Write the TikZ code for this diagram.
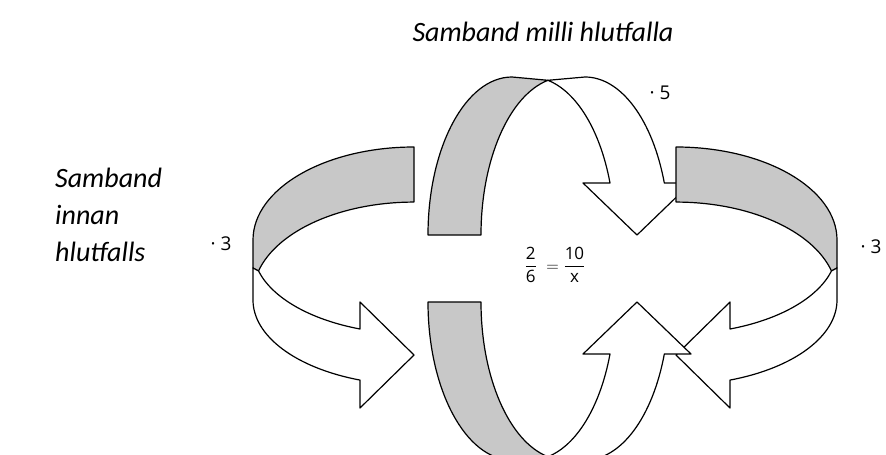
\documentclass[tikz,border=0pt]{standalone}
\usepackage{amsmath}
\usepackage{fontspec}
\setmainfont{Carlito}
\newfontfamily\numfont{Open Sans}
\usepackage{tikz}
\usetikzlibrary{positioning}
\definecolor{bandgrey}{RGB}{200,200,200}

% one side ribbon (back half shaded, front half ends in a right arrow)
\newcommand{\sideribbon}{%
  \draw[band] (414,147) arc[start angle=270, end angle=180, x radius=161pt, y radius=93pt]
    -- (253,268) -- (258.5,271) arc[start angle=195, end angle=270, x radius=161pt, y radius=93pt] -- cycle;
  \draw[face] (253,268) -- (253,300) arc[start angle=180, end angle=109.6, x radius=161pt, y radius=85pt]
    -- (360,408) -- (414,355) -- (360,302) -- (360,329)
    arc[start angle=109.6, end angle=165, x radius=161pt, y radius=85pt] -- cycle;
}
% one upright ribbon (back half shaded, front half ends in a down arrow)
\newcommand{\archribbon}{%
  \draw[band] (481,235) arc[start angle=180, end angle=258.3, x radius=84pt, y radius=158pt]
    -- (512,77) arc[start angle=270, end angle=180, x radius=84pt, y radius=158pt] -- cycle;
  \draw[face] (548,80.3) -- (585,77) arc[start angle=270, end angle=340.8, x radius=84pt, y radius=158pt]
    -- (691,183) -- (637,235) -- (583,183) -- (610,183)
    arc[start angle=340.8, end angle=281.7, x radius=84pt, y radius=158pt] -- cycle;
}

\begin{document}
\begin{tikzpicture}[
  x=1pt, y=1pt, yscale=-1,
  band/.style={fill=bandgrey, draw=black, line width=1.2pt, line join=round},
  face/.style={fill=white, draw=black, line width=1.2pt, line join=round},
  txt/.style={font=\fontsize{28}{37}\selectfont\itshape, align=left, inner sep=0pt},
  factor/.style={font=\numfont\fontsize{19}{22}\selectfont, inner sep=0pt},
]
\useasboundingbox (0,0) rectangle (886,455);
\clip (0,0) rectangle (886,455);

% Ribbons
\sideribbon
\archribbon
\begin{scope}[xshift=1090pt, xscale=-1]
  \sideribbon
\end{scope}
\begin{scope}[yshift=537pt, yscale=-1]
  \archribbon
\end{scope}

% Labels
\node[txt] (title) at (543,32) {Samband milli hlutfalla};
\node[txt, anchor=north west] (inside) at (55,168) {Samband\\innan\\hlutfalls};
\node[factor] (lfactor) at (221,244) {· 3};
\node[factor] (rfactor) at (871,247) {· 3};
\node[factor] (tfactor) at (660,93) {· 5};
\node[font=\numfont\fontsize{17}{20}\selectfont, inner sep=0pt] (ratio) at (555,265)
  {$\dfrac{\text{2}}{\text{6}}\;=\dfrac{\text{10}}{\text{x}}$};

\end{tikzpicture}
\end{document}
